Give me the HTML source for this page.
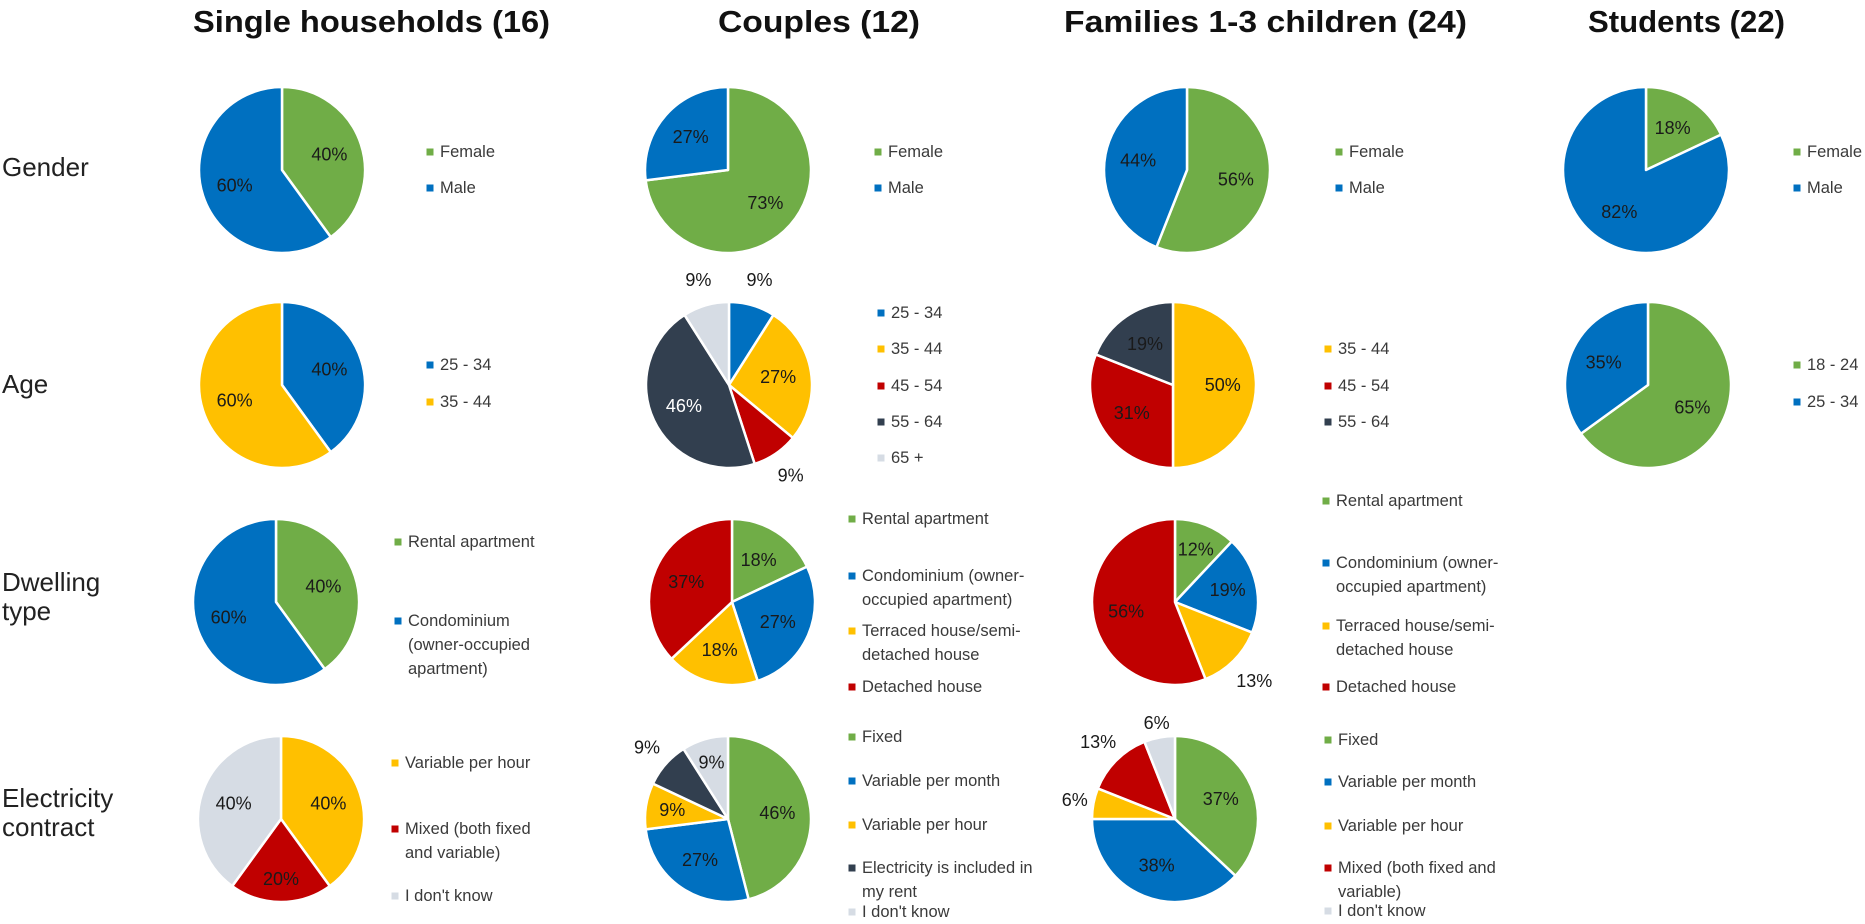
<!DOCTYPE html>
<html><head><meta charset="utf-8"><style>
html,body{margin:0;padding:0;background:#fff;}
svg{display:block;font-family:"Liberation Sans",sans-serif;}
</style></head><body>
<svg id="chart" width="1865" height="924" viewBox="0 0 1865 924" xmlns="http://www.w3.org/2000/svg">
<g font-weight="bold" font-size="31" fill="#111">
<text x="193" y="32" textLength="357" lengthAdjust="spacingAndGlyphs">Single households (16)</text>
<text x="718" y="32" textLength="202" lengthAdjust="spacingAndGlyphs">Couples (12)</text>
<text x="1064" y="32" textLength="403" lengthAdjust="spacingAndGlyphs">Families 1-3 children (24)</text>
<text x="1588" y="32" textLength="197" lengthAdjust="spacingAndGlyphs">Students (22)</text>
</g>
<g font-size="26" fill="#222">
<text x="2" y="176">Gender</text>
<text x="2" y="393">Age</text>
<text x="2" y="591">Dwelling<tspan x="2" y="620">type</tspan></text>
<text x="2" y="807">Electricity<tspan x="2" y="836">contract</tspan></text>
</g>
<g id="pies"></g>
</svg>
<script>
// ---- data (percent values, clockwise from 12 o'clock) ----
const genderSingle=[40,60];
const genderCouples=[73,27];
const genderFamilies=[56,44];
const genderStudents=[18,82];
const ageSingle=[40,60];
const ageCouples=[9,27,9,46,9];
const ageFamilies=[50,31,19];
const ageStudents=[65,35];
const dwellSingle=[40,60];
const dwellCouples=[18,27,18,37];
const dwellFamilies=[12,19,13,56];
const elecSingle=[40,20,40];
const elecCouples=[46,27,9,9,9];
const elecFamilies=[37,38,6,13,6];

const genderCats=['Female','Male'];
const ageCatsSingle=['25 - 34','35 - 44'];
const ageCatsCouples=['25 - 34','35 - 44','45 - 54','55 - 64','65 +'];
const ageCatsFamilies=['35 - 44','45 - 54','55 - 64'];
const ageCatsStudents=['18 - 24','25 - 34'];

const C={g:'#70AD47',b:'#0070C0',y:'#FFC000',r:'#C00000',d:'#323F4F',l:'#D6DCE4'};
const R=83;
const NS='http://www.w3.org/2000/svg';

const pies=[
 {n:'single-gender',v:genderSingle,c:['g','b'],cx:282,cy:170,lx:430,
  lg:[[genderCats[0]],[genderCats[1]]],ly:[152,188]},
 {n:'couples-gender',v:genderCouples,c:['g','b'],cx:728,cy:170,lx:878,
  lg:[[genderCats[0]],[genderCats[1]]],ly:[152,188]},
 {n:'families-gender',v:genderFamilies,c:['g','b'],cx:1187,cy:170,lx:1339,
  lg:[[genderCats[0]],[genderCats[1]]],ly:[152,188]},
 {n:'students-gender',v:genderStudents,c:['g','b'],cx:1646,cy:170,lx:1797,
  lg:[[genderCats[0]],[genderCats[1]]],ly:[152,188]},
 {n:'single-age',v:ageSingle,c:['b','y'],cx:282,cy:385,lx:430,
  lg:ageCatsSingle.map(s=>[s]),ly:[365,402]},
 {n:'couples-age',v:ageCouples,c:['b','y','r','d','l'],cx:729,cy:385,lx:881,lf:[1.32,0.6,1.32,0.6,1.32],
  lg:ageCatsCouples.map(s=>[s]),ly:[313,349,386,422,458]},
 {n:'families-age',v:ageFamilies,c:['y','r','d'],cx:1173,cy:385,lx:1328,
  lg:ageCatsFamilies.map(s=>[s]),ly:[349,386,422]},
 {n:'students-age',v:ageStudents,c:['g','b'],cx:1648,cy:385,lx:1797,
  lg:ageCatsStudents.map(s=>[s]),ly:[365,402]},
 {n:'single-dwelling',v:dwellSingle,c:['g','b'],cx:276,cy:602,lx:398,
  lg:[['Rental apartment'],['Condominium','(owner-occupied','apartment)']],ly:[542,621]},
 {n:'couples-dwelling',v:dwellCouples,c:['g','b','y','r'],cx:732,cy:602,lx:852,
  lg:[['Rental apartment'],['Condominium (owner-','occupied apartment)'],['Terraced house/semi-','detached house'],['Detached house']],ly:[519,576,631,687]},
 {n:'families-dwelling',v:dwellFamilies,c:['g','b','y','r'],cx:1175,cy:602,lx:1326,lf:[0.68,0.65,1.35,0.6],
  lg:[['Rental apartment'],['Condominium (owner-','occupied apartment)'],['Terraced house/semi-','detached house'],['Detached house']],ly:[501,563,626,687]},
 {n:'single-electricity',v:elecSingle,c:['y','r','l'],cx:281,cy:819,lx:395,lf:[0.6,0.72,0.6],
  lg:[['Variable per hour'],['Mixed (both fixed','and variable)'],["I don't know"]],ly:[763,829,896]},
 {n:'couples-electricity',v:elecCouples,c:['g','b','y','d','l'],cx:728,cy:819,lx:852,lf:[0.6,0.6,0.68,1.3,0.71],
  lg:[['Fixed'],['Variable per month'],['Variable per hour'],['Electricity is included in','my rent'],["I don't know"]],ly:[737,781,825,868,912]},
 {n:'families-electricity',v:elecFamilies,c:['g','b','y','r','l'],cx:1175,cy:819,lx:1328,lf:[0.6,0.6,1.23,1.31,1.18],
  lg:[['Fixed'],['Variable per month'],['Variable per hour'],['Mixed (both fixed and','variable)'],["I don't know"]],ly:[740,782,826,868,911]}
];

const root=document.getElementById('pies');
function pt(cx,cy,r,a){return [cx+r*Math.sin(a),cy-r*Math.cos(a)];}
pies.forEach(p=>{
  const g=document.createElementNS(NS,'g');
  
  
  root.appendChild(g);
  const tot=p.v.reduce((a,b)=>a+b,0);
  let acc=0;
  p.v.forEach((val,i)=>{
    const a0=acc/tot*2*Math.PI; acc+=val; const a1=acc/tot*2*Math.PI;
    const [x0,y0]=pt(p.cx,p.cy,R,a0),[x1,y1]=pt(p.cx,p.cy,R,a1);
    const large=(a1-a0)>Math.PI?1:0;
    const path=document.createElementNS(NS,'path');
    path.setAttribute('d',`M${p.cx},${p.cy} L${x0},${y0} A${R},${R} 0 ${large} 1 ${x1},${y1} Z`);
    path.setAttribute('fill',C[p.c[i]]);
    path.setAttribute('stroke','#fff');
    path.setAttribute('stroke-width','2.5');
    path.setAttribute('stroke-linejoin','round');
    
    
    g.appendChild(path);
  });
  acc=0;
  p.v.forEach((val,i)=>{
    const am=(acc+val/2)/tot*2*Math.PI; acc+=val;
    const k=p.lf?p.lf[i]:0.6;
    const [tx,ty]=pt(p.cx,p.cy,R*k,am);
    const t=document.createElementNS(NS,'text');
    t.setAttribute('x',tx);t.setAttribute('y',ty);
    t.setAttribute('text-anchor','middle');
    t.setAttribute('dominant-baseline','central');
    t.setAttribute('font-size','18');
    const white=(p.n==='couples-age'&&i===3);
    t.setAttribute('fill',white?'#fff':'#1a1a1a');
    t.textContent=val+'%';
    
    
    g.appendChild(t);
  });
  p.lg.forEach((lines,i)=>{
    const y=p.ly[i];
    const e=document.createElementNS(NS,'g');
    
    
    const m=document.createElementNS(NS,'rect');
    m.setAttribute('x',p.lx-3.5);m.setAttribute('y',y-3.5);
    m.setAttribute('width',7);m.setAttribute('height',7);
    m.setAttribute('fill',C[p.c[i]]);
    
    
    e.appendChild(m);
    lines.forEach((s,j)=>{
      const t=document.createElementNS(NS,'text');
      t.setAttribute('x',p.lx+10);t.setAttribute('y',y+j*24);
      t.setAttribute('dominant-baseline','central');
      t.setAttribute('font-size','16.5');
      t.setAttribute('fill','#3a3a3a');
      t.textContent=s;
      
      
      e.appendChild(t);
    });
    g.appendChild(e);
  });
});
</script>
</body></html>
